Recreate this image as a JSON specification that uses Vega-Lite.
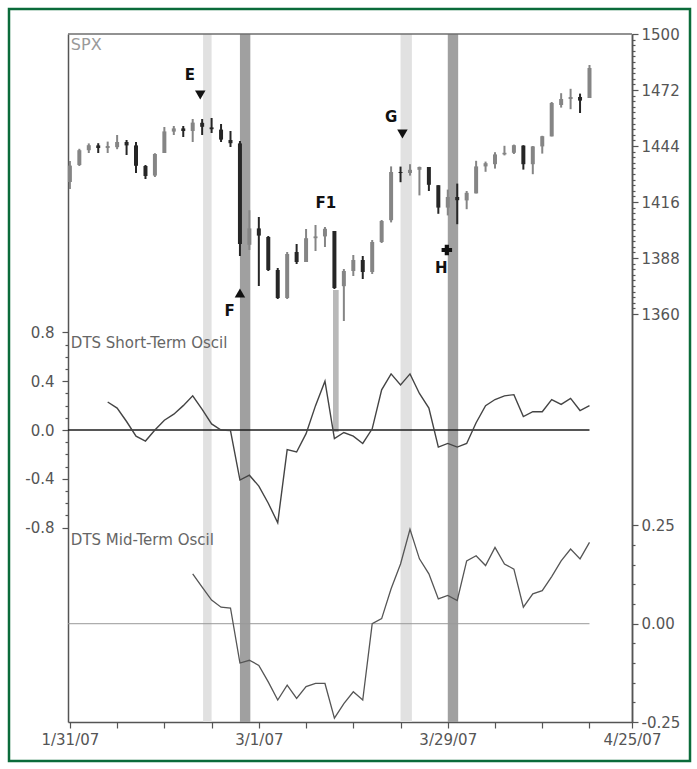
{
  "$schema": "https://vega.github.io/schema/vega-lite/v6.json",
  "width": 681,
  "height": 752,
  "autosize": {"type": "none"},
  "padding": {"left": 9, "top": 9, "right": 7, "bottom": 8},
  "background": "white",
  "config": {
    "view": {"stroke": "#0b6b3a", "strokeWidth": 2.5},
    "font": "DejaVu Sans",
    "axis": {"labelFont": "DejaVu Sans", "labelColor": "#555", "labelFontSize": 15, "domainColor": "#555", "tickColor": "#555", "grid": false, "tickSize": 6, "domainWidth": 1.5, "tickWidth": 1.2}
  },
  "datasets": {
    "spx": [
      {"i": 0, "date": "1/31", "open": 1426.0, "high": 1436.5, "low": 1422.5, "close": 1434.2},
      {"i": 1, "date": "2/1", "open": 1434.5, "high": 1442.6, "low": 1434.0, "close": 1441.9},
      {"i": 2, "date": "2/2", "open": 1441.9, "high": 1445.3, "low": 1440.5, "close": 1444.4},
      {"i": 3, "date": "2/5", "open": 1444.3, "high": 1445.4, "low": 1440.5, "close": 1443.0},
      {"i": 4, "date": "2/6", "open": 1443.0, "high": 1446.2, "low": 1440.5, "close": 1444.0},
      {"i": 5, "date": "2/7", "open": 1443.4, "high": 1449.5, "low": 1442.4, "close": 1446.0},
      {"i": 6, "date": "2/8", "open": 1446.0, "high": 1447.0, "low": 1439.5, "close": 1444.3},
      {"i": 7, "date": "2/9", "open": 1444.3, "high": 1446.0, "low": 1430.5, "close": 1434.1},
      {"i": 8, "date": "2/12", "open": 1434.0, "high": 1434.5, "low": 1427.5, "close": 1429.0},
      {"i": 9, "date": "2/13", "open": 1429.2, "high": 1440.4, "low": 1428.5, "close": 1440.0},
      {"i": 10, "date": "2/14", "open": 1440.5, "high": 1453.5, "low": 1440.5, "close": 1451.3},
      {"i": 11, "date": "2/15", "open": 1451.2, "high": 1454.0, "low": 1449.5, "close": 1452.8},
      {"i": 12, "date": "2/16", "open": 1452.8, "high": 1454.0, "low": 1448.5, "close": 1451.5},
      {"i": 13, "date": "2/20", "open": 1451.5, "high": 1457.5, "low": 1446.0, "close": 1455.7},
      {"i": 14, "date": "2/21", "open": 1455.6, "high": 1457.5, "low": 1449.5, "close": 1453.6},
      {"i": 15, "date": "2/22", "open": 1453.3, "high": 1458.0, "low": 1450.5, "close": 1452.4},
      {"i": 16, "date": "2/23", "open": 1452.2, "high": 1455.0, "low": 1446.0, "close": 1447.2},
      {"i": 17, "date": "2/26", "open": 1447.0, "high": 1451.5, "low": 1443.5, "close": 1445.4},
      {"i": 18, "date": "2/27", "open": 1445.3, "high": 1446.5, "low": 1389.0, "close": 1395.0},
      {"i": 19, "date": "2/28", "open": 1394.6, "high": 1411.9, "low": 1392.0, "close": 1402.8},
      {"i": 20, "date": "3/1", "open": 1402.8, "high": 1408.5, "low": 1374.0, "close": 1399.2},
      {"i": 21, "date": "3/2", "open": 1398.5, "high": 1399.0, "low": 1381.5, "close": 1382.0},
      {"i": 22, "date": "3/5", "open": 1382.0, "high": 1383.0, "low": 1367.5, "close": 1368.0},
      {"i": 23, "date": "3/6", "open": 1368.0, "high": 1391.0, "low": 1367.5, "close": 1390.0},
      {"i": 24, "date": "3/7", "open": 1391.0, "high": 1395.0, "low": 1385.0, "close": 1386.0},
      {"i": 25, "date": "3/8", "open": 1386.0, "high": 1402.5, "low": 1386.0, "close": 1397.9},
      {"i": 26, "date": "3/9", "open": 1397.9, "high": 1404.5, "low": 1391.5, "close": 1398.8},
      {"i": 27, "date": "3/12", "open": 1398.8, "high": 1403.5, "low": 1393.5, "close": 1402.6},
      {"i": 28, "date": "3/13", "open": 1401.5, "high": 1401.5, "low": 1372.5, "close": 1373.0},
      {"i": 29, "date": "3/14", "open": 1373.9, "high": 1382.5, "low": 1356.5, "close": 1381.5},
      {"i": 30, "date": "3/15", "open": 1381.5, "high": 1389.5, "low": 1379.0, "close": 1387.0},
      {"i": 31, "date": "3/16", "open": 1387.0, "high": 1389.0, "low": 1377.5, "close": 1381.0},
      {"i": 32, "date": "3/19", "open": 1381.0, "high": 1397.0, "low": 1380.0, "close": 1396.0},
      {"i": 33, "date": "3/20", "open": 1396.0, "high": 1407.0, "low": 1395.5, "close": 1406.5},
      {"i": 34, "date": "3/21", "open": 1406.9, "high": 1433.8, "low": 1405.8, "close": 1431.0},
      {"i": 35, "date": "3/22", "open": 1431.0, "high": 1433.7, "low": 1425.9, "close": 1430.5},
      {"i": 36, "date": "3/23", "open": 1430.5, "high": 1434.9, "low": 1429.2, "close": 1432.1},
      {"i": 37, "date": "3/26", "open": 1432.1, "high": 1433.7, "low": 1419.3, "close": 1433.5},
      {"i": 38, "date": "3/27", "open": 1433.5, "high": 1433.5, "low": 1421.5, "close": 1424.6},
      {"i": 39, "date": "3/28", "open": 1424.4, "high": 1424.4, "low": 1410.1, "close": 1413.2},
      {"i": 40, "date": "3/29", "open": 1413.2, "high": 1422.2, "low": 1409.3, "close": 1418.5},
      {"i": 41, "date": "3/30", "open": 1418.5, "high": 1425.2, "low": 1404.9, "close": 1416.9},
      {"i": 42, "date": "4/2", "open": 1416.8, "high": 1421.5, "low": 1412.4, "close": 1420.6},
      {"i": 43, "date": "4/3", "open": 1420.3, "high": 1436.6, "low": 1420.3, "close": 1433.8},
      {"i": 44, "date": "4/4", "open": 1433.8, "high": 1436.2, "low": 1431.1, "close": 1435.4},
      {"i": 45, "date": "4/5", "open": 1434.9, "high": 1440.9, "low": 1432.7, "close": 1439.8},
      {"i": 46, "date": "4/9", "open": 1439.8, "high": 1444.1, "low": 1439.3, "close": 1440.6},
      {"i": 47, "date": "4/10", "open": 1440.6, "high": 1444.7, "low": 1440.0, "close": 1444.4},
      {"i": 48, "date": "4/11", "open": 1444.2, "high": 1444.4, "low": 1432.2, "close": 1434.9},
      {"i": 49, "date": "4/12", "open": 1434.9, "high": 1444.0, "low": 1429.9, "close": 1443.8},
      {"i": 50, "date": "4/13", "open": 1443.8, "high": 1449.1, "low": 1440.2, "close": 1448.9},
      {"i": 51, "date": "4/16", "open": 1448.8, "high": 1466.0, "low": 1448.8, "close": 1465.5},
      {"i": 52, "date": "4/17", "open": 1464.5, "high": 1470.4, "low": 1463.2, "close": 1467.5},
      {"i": 53, "date": "4/18", "open": 1467.5, "high": 1472.6, "low": 1462.4, "close": 1468.5},
      {"i": 54, "date": "4/19", "open": 1468.5, "high": 1470.2, "low": 1460.5, "close": 1466.7},
      {"i": 55, "date": "4/20", "open": 1468.0, "high": 1484.5, "low": 1468.0, "close": 1483.0}
    ],
    "st": [
      {"i": 4, "v": 0.23}, {"i": 5, "v": 0.18}, {"i": 6, "v": 0.07}, {"i": 7, "v": -0.05},
      {"i": 8, "v": -0.09}, {"i": 9, "v": 0.0}, {"i": 10, "v": 0.08}, {"i": 11, "v": 0.13},
      {"i": 12, "v": 0.2}, {"i": 13, "v": 0.28}, {"i": 14, "v": 0.17}, {"i": 15, "v": 0.05},
      {"i": 16, "v": 0.0}, {"i": 17, "v": -0.005}, {"i": 18, "v": -0.41}, {"i": 19, "v": -0.37},
      {"i": 20, "v": -0.46}, {"i": 21, "v": -0.6}, {"i": 22, "v": -0.76}, {"i": 23, "v": -0.16},
      {"i": 24, "v": -0.18}, {"i": 25, "v": -0.03}, {"i": 26, "v": 0.2}, {"i": 27, "v": 0.4},
      {"i": 28, "v": -0.07}, {"i": 29, "v": -0.02}, {"i": 30, "v": -0.05}, {"i": 31, "v": -0.11},
      {"i": 32, "v": 0.01}, {"i": 33, "v": 0.33}, {"i": 34, "v": 0.46}, {"i": 35, "v": 0.37},
      {"i": 36, "v": 0.46}, {"i": 37, "v": 0.3}, {"i": 38, "v": 0.18}, {"i": 39, "v": -0.14},
      {"i": 40, "v": -0.11}, {"i": 41, "v": -0.14}, {"i": 42, "v": -0.11}, {"i": 43, "v": 0.06},
      {"i": 44, "v": 0.2}, {"i": 45, "v": 0.25}, {"i": 46, "v": 0.28}, {"i": 47, "v": 0.29},
      {"i": 48, "v": 0.11}, {"i": 49, "v": 0.15}, {"i": 50, "v": 0.15}, {"i": 51, "v": 0.25},
      {"i": 52, "v": 0.21}, {"i": 53, "v": 0.26}, {"i": 54, "v": 0.16}, {"i": 55, "v": 0.2}
    ],
    "mt": [
      {"i": 13, "v": 0.127}, {"i": 14, "v": 0.093}, {"i": 15, "v": 0.06}, {"i": 16, "v": 0.042},
      {"i": 17, "v": 0.04}, {"i": 18, "v": -0.1}, {"i": 19, "v": -0.093}, {"i": 20, "v": -0.106},
      {"i": 21, "v": -0.148}, {"i": 22, "v": -0.194}, {"i": 23, "v": -0.156}, {"i": 24, "v": -0.19},
      {"i": 25, "v": -0.16}, {"i": 26, "v": -0.152}, {"i": 27, "v": -0.152}, {"i": 28, "v": -0.24},
      {"i": 29, "v": -0.203}, {"i": 30, "v": -0.173}, {"i": 31, "v": -0.194}, {"i": 32, "v": 0.0},
      {"i": 33, "v": 0.013}, {"i": 34, "v": 0.089}, {"i": 35, "v": 0.152}, {"i": 36, "v": 0.24},
      {"i": 37, "v": 0.165}, {"i": 38, "v": 0.127}, {"i": 39, "v": 0.063}, {"i": 40, "v": 0.072},
      {"i": 41, "v": 0.059}, {"i": 42, "v": 0.16}, {"i": 43, "v": 0.173}, {"i": 44, "v": 0.148},
      {"i": 45, "v": 0.194}, {"i": 46, "v": 0.152}, {"i": 47, "v": 0.139}, {"i": 48, "v": 0.042},
      {"i": 49, "v": 0.076}, {"i": 50, "v": 0.084}, {"i": 51, "v": 0.12}, {"i": 52, "v": 0.16},
      {"i": 53, "v": 0.19}, {"i": 54, "v": 0.165}, {"i": 55, "v": 0.207}
    ],
    "bands": [
      {"name": "E", "start": 14.1, "end": 15.0, "top": 1500, "bottom": 1156, "tone": "light"},
      {"name": "F", "start": 18.0, "end": 19.1, "top": 1500, "bottom": 1156, "tone": "dark"},
      {"name": "F1", "start": 27.85, "end": 28.45, "top": 1372, "bottom": 1301, "tone": "mid"},
      {"name": "G", "start": 35.0, "end": 36.2, "top": 1500, "bottom": 1156, "tone": "light"},
      {"name": "H", "start": 40.0, "end": 41.1, "top": 1500, "bottom": 1156, "tone": "dark"}
    ],
    "letters": [
      {"label": "E", "i": 12.7, "p": 1479.5},
      {"label": "F", "i": 16.9, "p": 1361.5},
      {"label": "F1", "i": 27.1, "p": 1415.5},
      {"label": "G", "i": 34.0, "p": 1458.5},
      {"label": "H", "i": 39.3, "p": 1383}
    ],
    "symbols": [
      {"name": "E", "i": 13.8, "p": 1469.5, "shape": "triangle-down"},
      {"name": "F", "i": 18.0, "p": 1370.5, "shape": "triangle-up"},
      {"name": "G", "i": 35.2, "p": 1450, "shape": "triangle-down"},
      {"name": "H", "i": 39.9, "p": 1392, "shape": "cross"}
    ],
    "titles": [
      {"panel": "spx", "label": "SPX", "i": 0.1, "v": 1494.5},
      {"panel": "st", "label": "DTS Short-Term Oscil", "i": 0.1, "v": 0.713},
      {"panel": "mt", "label": "DTS Mid-Term Oscil", "i": 0.1, "v": 0.213}
    ]
  },
  "layer": [
    {
      "layer": [
        {
          "data": {"name": "bands"},
          "mark": {"type": "rect"},
          "encoding": {
            "x": {"field": "start", "type": "quantitative", "scale": {"domain": [-0.2, 59.5], "range": [59, 623], "nice": false, "zero": false},
                  "axis": {"orient": "bottom", "offset": -39, "values": [0, 5, 10, 15, 20, 25, 30, 35, 40, 45, 50, 55, 59.5],
                           "labelExpr": "datum.value == 0 ? '1/31/07' : datum.value == 20 ? '3/1/07' : datum.value == 40 ? '3/29/07' : datum.value == 59.5 ? '4/25/07' : ''",
                           "labelFlush": false, "labelOverlap": false, "labelPadding": 4, "title": null,
                           "encode": {"ticks": {"update": {"y2": {"signal": "(datum.value == 0 || datum.value == 20 || datum.value == 40 || datum.value == 59.5) ? 6 : 3"}}}}}},
            "x2": {"field": "end"},
            "y": {"field": "top", "type": "quantitative", "scale": {"domain": [1156, 1500], "range": [713, 25], "nice": false, "zero": false},
                  "axis": {"orient": "right", "offset": -58, "values": [1360, 1388, 1416, 1444, 1472, 1500], "format": "d",
                           "labelOverlap": false, "labelPadding": 3, "title": null}},
            "y2": {"field": "bottom"},
            "color": {"field": "tone", "type": "nominal", "scale": {"domain": ["light", "mid", "dark"], "range": ["#e1e1e1", "#b9b9b9", "#a0a0a0"]}, "legend": null}
          }
        },
        {
          "data": {"name": "spx"},
          "mark": {"type": "rule", "strokeWidth": 2},
          "encoding": {
            "x": {"field": "i", "type": "quantitative"},
            "y": {"field": "low", "type": "quantitative"},
            "y2": {"field": "high"},
            "color": {"condition": {"test": "datum.close < datum.open", "value": "#262626"}, "value": "#858585"}
          }
        },
        {
          "data": {"name": "spx"},
          "mark": {"type": "rule", "strokeWidth": 4},
          "encoding": {
            "x": {"field": "i", "type": "quantitative"},
            "y": {"field": "open", "type": "quantitative"},
            "y2": {"field": "close"},
            "color": {"condition": {"test": "datum.close < datum.open", "value": "#262626"}, "value": "#858585"}
          }
        },
        {
          "data": {"values": [{"edge": "top"}]},
          "mark": {"type": "rule", "stroke": "#6e6e6e", "strokeWidth": 1.5},
          "encoding": {
            "x": {"datum": -0.2, "type": "quantitative"},
            "x2": {"datum": 59.5},
            "y": {"datum": 1500, "type": "quantitative"}
          }
        },
        {
          "data": {"name": "titles"},
          "transform": [{"filter": "datum.panel == 'spx'"}],
          "mark": {"type": "text", "align": "left", "baseline": "middle", "fontSize": 16, "color": "#9a9a9a"},
          "encoding": {
            "x": {"field": "i", "type": "quantitative"},
            "y": {"field": "v", "type": "quantitative"},
            "text": {"field": "label"}
          }
        },
        {
          "data": {"name": "letters"},
          "mark": {"type": "text", "align": "center", "baseline": "middle", "fontSize": 15, "fontWeight": "bold", "font": "DejaVu Sans", "color": "#111"},
          "encoding": {
            "x": {"field": "i", "type": "quantitative"},
            "y": {"field": "p", "type": "quantitative"},
            "text": {"field": "label"}
          }
        },
        {
          "data": {"name": "symbols"},
          "mark": {"type": "point", "filled": true, "color": "#111", "opacity": 1, "size": 110},
          "encoding": {
            "x": {"field": "i", "type": "quantitative"},
            "y": {"field": "p", "type": "quantitative"},
            "shape": {"field": "shape", "type": "nominal", "scale": null}
          }
        }
      ]
    },
    {
      "layer": [
        {
          "data": {"values": [{"line": "zero"}]},
          "mark": {"type": "rule", "stroke": "#1e1e1e", "strokeWidth": 1.4},
          "encoding": {
            "x": {"datum": -0.2, "type": "quantitative"},
            "x2": {"datum": 55},
            "y": {"datum": 0, "type": "quantitative", "scale": {"domain": [-2.393, 3.246], "range": [713, 25], "nice": false, "zero": false},
                  "axis": {"orient": "left", "offset": -59, "values": [-0.8, -0.4, 0, 0.4, 0.8],
                           "labelExpr": "replace(format(datum.value, '.1f'), '\u2212', '-')",
                           "labelOverlap": false, "labelPadding": 8, "title": null}}
          }
        },
        {
          "data": {"name": "st"},
          "mark": {"type": "line", "stroke": "#444", "strokeWidth": 1.4},
          "encoding": {
            "x": {"field": "i", "type": "quantitative"},
            "y": {"field": "v", "type": "quantitative"}
          }
        },
        {
          "data": {"name": "titles"},
          "transform": [{"filter": "datum.panel == 'st'"}],
          "mark": {"type": "text", "align": "left", "baseline": "middle", "fontSize": 15, "color": "#666"},
          "encoding": {
            "x": {"field": "i", "type": "quantitative"},
            "y": {"field": "v", "type": "quantitative"},
            "text": {"field": "label"}
          }
        }
      ]
    },
    {
      "layer": [
        {
          "data": {"values": [{"line": "zero"}]},
          "mark": {"type": "rule", "stroke": "#999", "strokeWidth": 1},
          "encoding": {
            "x": {"datum": -0.2, "type": "quantitative"},
            "x2": {"datum": 55},
            "y": {"datum": 0, "type": "quantitative", "scale": {"domain": [-0.25, 1.5], "range": [713, 25], "nice": false, "zero": false},
                  "axis": {"orient": "right", "offset": -58, "values": [-0.25, 0, 0.25],
                           "labelExpr": "replace(format(datum.value, '.2f'), '\u2212', '-')",
                           "labelOverlap": false, "labelPadding": 3, "title": null}}
          }
        },
        {
          "data": {"name": "mt"},
          "mark": {"type": "line", "stroke": "#555", "strokeWidth": 1.3},
          "encoding": {
            "x": {"field": "i", "type": "quantitative"},
            "y": {"field": "v", "type": "quantitative"}
          }
        },
        {
          "data": {"name": "titles"},
          "transform": [{"filter": "datum.panel == 'mt'"}],
          "mark": {"type": "text", "align": "left", "baseline": "middle", "fontSize": 15, "color": "#666"},
          "encoding": {
            "x": {"field": "i", "type": "quantitative"},
            "y": {"field": "v", "type": "quantitative"},
            "text": {"field": "label"}
          }
        }
      ]
    },
    {
      "data": {"values": [{"guide": "spx minor ticks"}]},
      "mark": {"type": "rule", "opacity": 0},
      "encoding": {
        "x": {"datum": 0, "type": "quantitative"},
        "y": {"datum": 1400, "type": "quantitative", "scale": {"domain": [1156, 1500], "range": [713, 25], "nice": false, "zero": false},
              "axis": {"orient": "right", "offset": -58, "labels": false, "domain": false, "tickSize": 3, "title": null,
                       "values": [1362.8, 1365.6, 1368.4, 1371.2, 1374, 1376.8, 1379.6, 1382.4, 1385.2, 1390.8, 1393.6, 1396.4, 1399.2, 1402, 1404.8, 1407.6, 1410.4, 1413.2, 1418.8, 1421.6, 1424.4, 1427.2, 1430, 1432.8, 1435.6, 1438.4, 1441.2, 1446.8, 1449.6, 1452.4, 1455.2, 1458, 1460.8, 1463.6, 1466.4, 1469.2, 1474.8, 1477.6, 1480.4, 1483.2, 1486, 1488.8, 1491.6, 1494.4, 1497.2]}}
      }
    },
    {
      "data": {"values": [{"guide": "short-term minor ticks"}]},
      "mark": {"type": "rule", "opacity": 0},
      "encoding": {
        "x": {"datum": 0, "type": "quantitative"},
        "y": {"datum": 0, "type": "quantitative", "scale": {"domain": [-2.393, 3.246], "range": [713, 25], "nice": false, "zero": false},
              "axis": {"orient": "left", "offset": -59, "labels": false, "domain": false, "tickSize": 3, "title": null,
                       "values": [-0.7, -0.6, -0.5, -0.3, -0.2, -0.1, 0.1, 0.2, 0.3, 0.5, 0.6, 0.7]}}
      }
    },
    {
      "data": {"values": [{"guide": "mid-term minor ticks"}]},
      "mark": {"type": "rule", "opacity": 0},
      "encoding": {
        "x": {"datum": 0, "type": "quantitative"},
        "y": {"datum": 0, "type": "quantitative", "scale": {"domain": [-0.25, 1.5], "range": [713, 25], "nice": false, "zero": false},
              "axis": {"orient": "right", "offset": -58, "labels": false, "domain": false, "tickSize": 3, "title": null,
                       "values": [-0.2, -0.15, -0.1, -0.05, 0.05, 0.1, 0.15, 0.2]}}
      }
    }
  ],
  "resolve": {"scale": {"y": "independent"}, "axis": {"y": "independent"}}
}
